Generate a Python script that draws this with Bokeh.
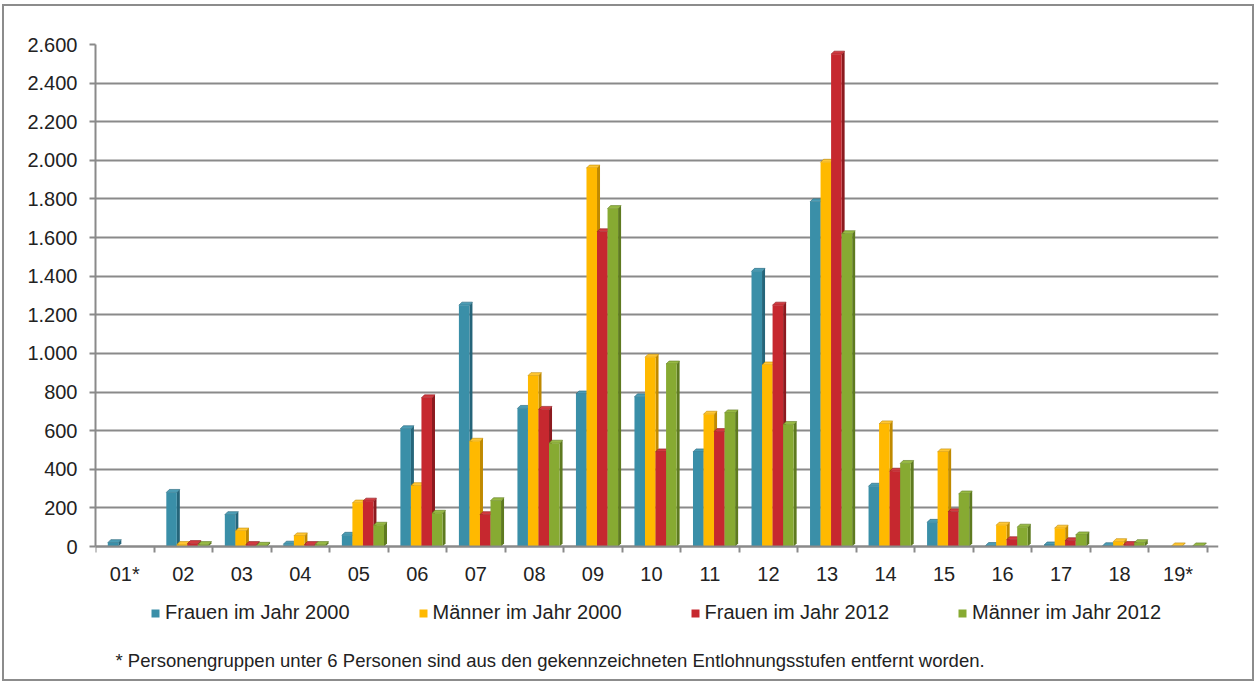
import numpy as np
from bokeh.plotting import figure
from bokeh.models import Range1d, FixedTicker, Legend, LegendItem, Label, ColumnDataSource
from bokeh.embed import file_html
from bokeh.resources import INLINE

# ---------------- data ----------------
categories = ["01*", "02", "03", "04", "05", "06", "07", "08", "09", "10",
              "11", "12", "13", "14", "15", "16", "17", "18", "19*"]
frauen_2000 = [20, 280, 165, 12, 58, 610, 1250, 715, 790, 775,
               490, 1425, 1785, 312, 125, 5, 8, 4, None]
maenner_2000 = [None, 10, 80, 55, 225, 315, 545, 885, 1960, 980,
                685, 940, 1990, 635, 490, 110, 95, 25, 3]
frauen_2012 = [None, 15, 10, 10, 235, 770, 165, 710, 1630, 490,
               595, 1250, 2550, 390, 180, 35, 30, 10, None]
maenner_2012 = [None, 10, 6, 10, 110, 172, 237, 535, 1750, 945,
                692, 632, 1620, 430, 272, 100, 60, 20, 3]
series_names = ["Frauen im Jahr 2000", "Männer im Jahr 2000",
                "Frauen im Jahr 2012", "Männer im Jahr 2012"]
y_ticks = list(range(0, 2601, 200))
footnote = "* Personengruppen unter 6 Personen sind aus den gekennzeichneten Entlohnungsstufen entfernt worden."

# ---------------- styles / layout ----------------
front_colors = ["#3a8fa8", "#ffb900", "#c6282f", "#87aa32"]
side_colors = ["#25657a", "#c08a00", "#8c1a1f", "#5e7a20"]
cap_colors = ["#4c9db5", "#ffc633", "#d23a40", "#97b944"]
FONT = "Liberation Sans"
GRID = "#8a8a8a"
TXT = "#222222"

n = len(categories)
xs = np.arange(1, n + 1)
series = [frauen_2000, maenner_2000, frauen_2012, maenner_2012]

FRAME_W, FRAME_H = 1123, 633
PLOT_H = 502                      # pixels from value 0 up to the top tick
BELOW_PX = FRAME_H - PLOT_H       # space inside frame under the zero line
y_max = y_ticks[-1]
y_lo = -y_max * BELOW_PX / PLOT_H
x_lo, x_hi = 0.5, n + 0.69
upx_y = (y_max - y_lo) / FRAME_H
upx_x = (x_hi - x_lo) / FRAME_W

p = figure(frame_width=FRAME_W, frame_height=FRAME_H,
           x_range=Range1d(x_lo, x_hi), y_range=Range1d(y_lo, y_max),
           output_backend="svg", toolbar_location=None,
           min_border_left=91, min_border_right=34,
           min_border_top=38, min_border_bottom=2,
           outline_line_color=None, background_fill_color="white",
           border_fill_color="white")
p.styles = {"border": "2px solid #8c8c8c", "margin-left": "2px", "margin-top": "4px"}

bar_w = 0.18
depth_x = 3 * upx_x               # 3D depth of the bars
depth_y = 3 * upx_y
offsets = [-0.20, -0.02, 0.16, 0.34]
items = []
for vals, name, fc, sc, cc, off in zip(series, series_names, front_colors,
                                       side_colors, cap_colors, offsets):
    side_xs, side_ys, cap_xs, cap_ys = [], [], [], []
    for xc, v in zip(xs, vals):
        if v is None:
            continue
        xl, xr = xc + off - bar_w / 2, xc + off + bar_w / 2
        side_xs.append([xr, xr + depth_x, xr + depth_x, xr])
        side_ys.append([0, depth_y, v + depth_y, v])
        cap_xs.append([xl, xr, xr + depth_x, xl + depth_x])
        cap_ys.append([v, v, v + depth_y, v + depth_y])
    p.patches(side_xs, side_ys, fill_color=sc, line_color=None)
    p.patches(cap_xs, cap_ys, fill_color=cc, line_color=sc, line_width=0.6)
    tops = np.array([np.nan if v is None else v for v in vals], dtype=float)
    src = ColumnDataSource(dict(x=xs + off, top=tops))
    r = p.vbar(x="x", top="top", bottom=0, width=bar_w, source=src,
               fill_color=fc, line_color=None)
    items.append(LegendItem(label=name, renderers=[r]))

# x axis (drawn at value 0)
p.xgrid.visible = False
xa = p.xaxis[0]
xa.fixed_location = 0
xa.ticker = FixedTicker(ticks=list(xs), minor_ticks=[i + 0.5 for i in range(n + 1)])
xa.major_label_overrides = {int(i): c for i, c in zip(xs, categories)}
xa.bounds = (0.5, n + 0.5)
xa.major_tick_line_color = None
xa.major_tick_out = 6
xa.major_tick_in = 0
xa.minor_tick_out = 6
xa.minor_tick_in = 0
xa.minor_tick_line_color = GRID
xa.minor_tick_line_width = 2
xa.axis_line_color = GRID
xa.axis_line_width = 2
xa.major_label_text_font = FONT
xa.major_label_text_font_size = "20px"
xa.major_label_text_color = TXT
xa.major_label_standoff = 10

# y axis
ya = p.yaxis[0]
ya.ticker = FixedTicker(ticks=y_ticks)
ya.bounds = (0, y_max)
ya.major_label_overrides = {v: f"{v:,}".replace(",", ".") for v in y_ticks}
ya.major_tick_out = 6
ya.major_tick_in = 0
ya.major_tick_line_color = GRID
ya.major_tick_line_width = 2
ya.minor_tick_line_color = None
ya.axis_line_color = GRID
ya.axis_line_width = 2
ya.major_label_text_font = FONT
ya.major_label_text_font_size = "20px"
ya.major_label_text_color = TXT
ya.major_label_standoff = 12

p.ygrid.ticker = FixedTicker(ticks=y_ticks)
p.ygrid.grid_line_color = GRID
p.ygrid.grid_line_width = 2

legend = Legend(items=items, orientation="horizontal", location=(55, 53),
                glyph_width=10, glyph_height=10, label_standoff=5, spacing=68,
                padding=0, margin=0, border_line_color=None,
                background_fill_alpha=0, label_text_font=FONT,
                label_text_font_size="20px", label_text_color=TXT)
p.add_layout(legend, "center")

p.add_layout(Label(x=x_lo + 20 * upx_x, y=y_lo + 17 * upx_y, text=footnote,
                   text_font=FONT, text_font_size="18.5px", text_color=TXT,
                   text_baseline="middle", text_align="left"))

open("out.html", "w").write(file_html(p, INLINE))
